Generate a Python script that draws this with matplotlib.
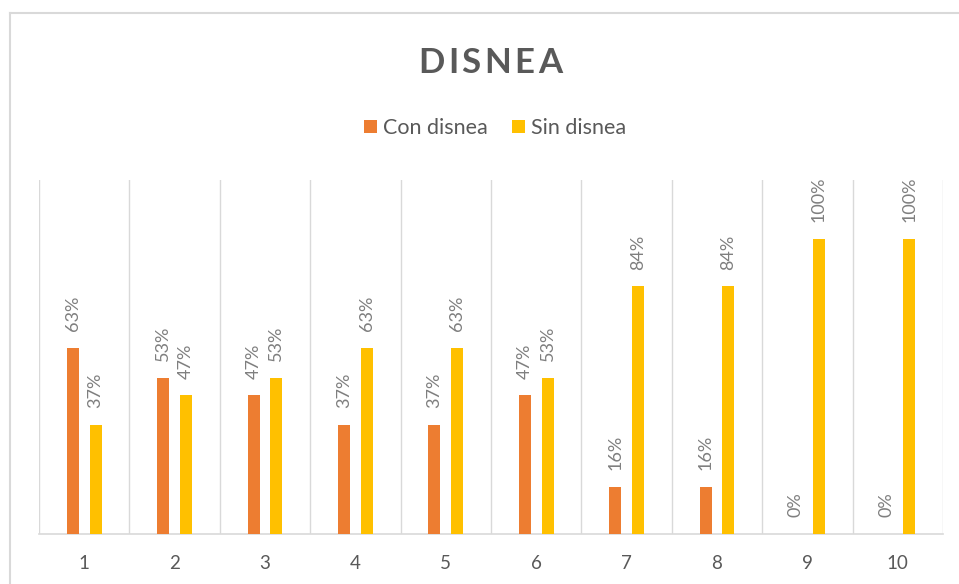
import matplotlib.pyplot as plt
import numpy as np
from matplotlib.patches import Patch
from matplotlib.lines import Line2D

# Data
categories = ['1', '2', '3', '4', '5', '6', '7', '8', '9', '10']
con_disnea = [0.63, 0.53, 0.47, 0.37, 0.37, 0.47, 0.16, 0.16, 0.00, 0.00]
sin_disnea = [0.37, 0.47, 0.53, 0.63, 0.63, 0.53, 0.84, 0.84, 1.00, 1.00]
series_names = ['Con disnea', 'Sin disnea']
title = 'DISNEA'

# Style
plt.rcParams['font.family'] = ['Lato', 'DejaVu Sans']
orange = '#ED7D31'
yellow = '#FFC000'
grid_color = '#D9D9D9'
text_dark = '#595959'
label_gray = '#7F7F7F'

fig = plt.figure(figsize=(9.59, 5.84), dpi=100)
ax = fig.add_axes([39 / 959, 1 - 534 / 584, (943 - 39) / 959, (534 - 180) / 584])

x = np.arange(len(categories))
width = 0.133
offset = 0.127

bars1 = ax.bar(x - offset, con_disnea, width, color=orange, zorder=3)
bars2 = ax.bar(x + offset, sin_disnea, width, color=yellow, zorder=3)

# Data labels, rotated
for bars, vals in ((bars1, con_disnea), (bars2, sin_disnea)):
    for b, v in zip(bars, vals):
        ax.annotate(f"{round(v * 100)}%", (b.get_x() + b.get_width() / 2, v),
                    xytext=(0, 12), textcoords='offset points',
                    rotation=90, ha='center', va='bottom',
                    fontsize=13, color=label_gray)

ax.set_xlim(-0.5, len(categories) - 0.5)
ax.set_ylim(0, 1.2)
ax.set_yticks([])
ax.set_xticks(x)
ax.set_xticklabels(categories, fontsize=13.5, color=text_dark)
ax.tick_params(axis='x', length=0, pad=15)

# Vertical separators between categories
ax.set_xticks(np.arange(-0.5, len(categories)), minor=True)
ax.tick_params(axis='x', which='minor', length=0)
ax.grid(axis='x', which='minor', color=grid_color, linewidth=1, zorder=0)

for s in ('left', 'top', 'right'):
    ax.spines[s].set_visible(False)
ax.spines['bottom'].set_color(grid_color)
ax.spines['bottom'].set_linewidth(1.2)

# Title with letter spacing (drawn letter by letter)
renderer = fig.canvas.get_renderer()
title_left, title_right, title_base = 418, 562, 73
letters = []
for ch in title:
    t = fig.text(0, 0, ch, fontsize=25, fontweight='bold', color=text_dark,
                 ha='left', va='baseline')
    letters.append((t, t.get_window_extent(renderer).width))
natural = sum(w for _, w in letters)
gap = (title_right - title_left - natural) / (len(letters) - 1)
xpos = title_left
for t, w in letters:
    t.set_position((xpos / 959, 1 - title_base / 584))
    xpos += w + gap

# Legend
handles = [Patch(facecolor=orange, edgecolor='none'),
           Patch(facecolor=yellow, edgecolor='none')]
leg = fig.legend(handles, series_names, loc='center',
                 bbox_to_anchor=(495 / 959, 1 - 128 / 584), ncol=2,
                 frameon=False, fontsize=15.5, handlelength=0.6,
                 handleheight=0.6, handletextpad=0.28, columnspacing=1.16)
for t in leg.get_texts():
    t.set_color(text_dark)

# Chart frame (top and left edges visible)
fig.add_artist(Line2D([10 / 959, 1], [1 - 13 / 584, 1 - 13 / 584],
                      color=grid_color, linewidth=1.5))
fig.add_artist(Line2D([10 / 959, 10 / 959], [0, 1 - 13 / 584],
                      color=grid_color, linewidth=1.5))

fig.savefig('out.png', dpi=100)
